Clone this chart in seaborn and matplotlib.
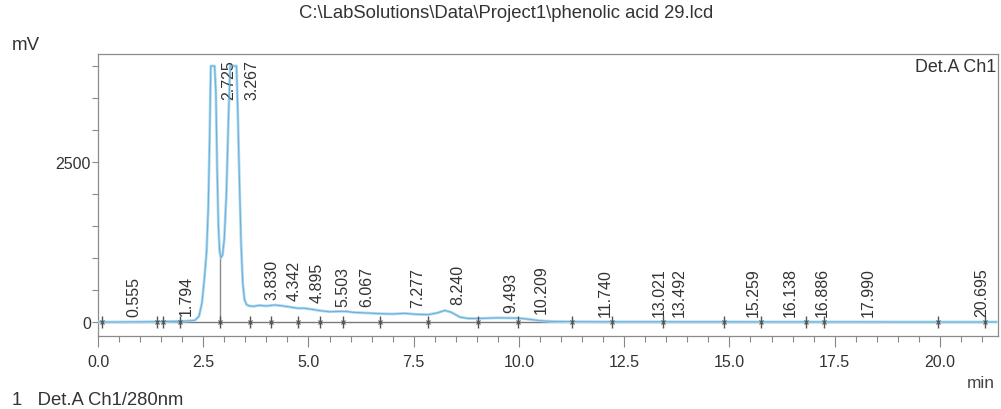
import numpy as np
import pandas as pd
import matplotlib
matplotlib.use("Agg")
import matplotlib.pyplot as plt
import seaborn as sns

# ---- data ----
time_min = [0.0, 0.5, 1.0, 1.4, 1.8, 2.1, 2.3, 2.4, 2.47, 2.53, 2.58, 2.62, 2.65, 2.68,
            2.72, 2.77, 2.80, 2.83, 2.86, 2.89, 2.92, 2.96, 3.00, 3.05, 3.10, 3.14,
            3.22, 3.29, 3.32, 3.36, 3.40, 3.44, 3.48, 3.53, 3.60, 3.70, 3.83, 4.00,
            4.20, 4.34, 4.55, 4.75, 4.90, 5.10, 5.30, 5.50, 5.70, 5.90, 6.07, 6.40,
            6.70, 7.00, 7.28, 7.55, 7.84, 8.05, 8.24, 8.40, 8.60, 8.80, 9.03, 9.49,
            9.98, 10.21, 10.50, 10.80, 11.26, 12.00, 13.00, 14.00, 15.00, 16.00,
            17.00, 18.00, 19.00, 20.00, 21.00, 21.35]
signal_mv = [0, 0, 2, 5, 10, 15, 25, 90, 300, 700, 1100, 1800, 2800, 4000,
             4000, 4000, 3600, 2400, 1500, 1100, 1000, 1050, 1300, 2000, 3200, 4000,
             4000, 4000, 3300, 2200, 1200, 600, 350, 270, 250, 245, 260, 250,
             265, 255, 235, 215, 215, 195, 175, 160, 165, 165, 150, 140,
             130, 125, 135, 120, 115, 140, 180, 150, 75, 55, 55, 65,
             60, 45, 20, 8, 5, 3, 3, 2, 2, 1,
             1, 1, 0, 0, 0, 0]

peak_rt = [0.555, 1.794, 2.725, 3.267, 3.830, 4.342, 4.895, 5.503, 6.067, 7.277,
           8.240, 9.493, 10.209, 11.740, 13.021, 13.492, 15.259, 16.138, 16.886,
           17.990, 20.695]
peak_labels = ["0.555", "1.794", "2.725", "3.267", "3.830", "4.342", "4.895", "5.503",
               "6.067", "7.277", "8.240", "9.493", "10.209", "11.740", "13.021",
               "13.492", "15.259", "16.138", "16.886", "17.990", "20.695"]
# integration boundary marks on the baseline
boundary_min = [0.1, 1.4, 1.55, 1.95, 2.90, 3.60, 4.10, 4.75, 5.27, 5.82, 6.70, 7.84,
                9.03, 9.98, 11.26, 12.20, 13.42, 14.87, 15.75, 16.82, 17.24, 19.95, 21.07]

x_major = [0.0, 2.5, 5.0, 7.5, 10.0, 12.5, 15.0, 17.5, 20.0]
y_major = [0, 2500]

df = pd.DataFrame({"time": time_min, "mV": signal_mv})

sns.set_style("white")
plt.rcParams["font.family"] = ["Liberation Sans", "DejaVu Sans"]

fig = plt.figure(figsize=(10.01, 4.10), dpi=100)
ax = fig.add_axes([98 / 1001, 1 - 337 / 410, 900 / 1001, 282 / 410])

XMIN, XMAX = 0.0, 21.38
YMIN, YMAX = -219, 4187

# integration baseline
ax.plot([0.1, 21.07], [0, 0], color="#7a7a7a", lw=1.0, zorder=2)
# drop line at the valley
ax.plot([2.90, 2.90], [0, 1000], color="#8a8a8a", lw=1.0, zorder=2)

sns.lineplot(data=df, x="time", y="mV", ax=ax, color="#a8def0", lw=2.0, zorder=3)
sns.lineplot(data=df, x="time", y="mV", ax=ax, color="#78acd8", lw=0.8, zorder=4)

# boundary markers
ax.plot(boundary_min, [0] * len(boundary_min), ls="none", marker="|", ms=9,
        mew=1.0, color="#555555", zorder=5)
ax.plot(boundary_min, [0] * len(boundary_min), ls="none", marker="x", ms=3,
        mew=0.8, color="#555555", zorder=5)

# peak labels
sig_at = np.interp(peak_rt, time_min, signal_mv)
for rt, lab, s in zip(peak_rt, peak_labels, sig_at):
    if s > 3500:
        ax.annotate(lab, xy=(rt, YMAX), xytext=(16, -5), textcoords="offset pixels",
                    rotation=90, ha="center", va="top", fontsize=11.5, color="#333333")
    else:
        ax.annotate(lab, xy=(rt, max(s, 0)), xytext=(13, 6), textcoords="offset pixels",
                    rotation=90, ha="center", va="bottom", fontsize=11.5, color="#333333")

ax.set_xlim(XMIN, XMAX)
ax.set_ylim(YMIN, YMAX)
ax.set_xticks(x_major)
ax.set_xticklabels([f"{v:.1f}" for v in x_major])
ax.set_yticks(y_major)
ax.set_yticklabels([str(v) for v in y_major])
ax.set_xticks(np.arange(0, 21.4, 0.5), minor=True)
ax.set_yticks(np.arange(0, 4100, 500), minor=True)
ax.tick_params(axis="x", which="major", direction="out", length=8, width=0.8,
               color="#888888", labelsize=11.5, labelcolor="#333333", pad=5)
ax.tick_params(axis="y", which="major", direction="out", length=4, width=0.8,
               color="#888888", labelsize=11.5, labelcolor="#333333", pad=1)
ax.tick_params(axis="both", which="minor", direction="out", length=4, width=0.8,
               color="#888888")
ax.tick_params(axis="x", which="both", bottom=True)
ax.tick_params(axis="y", which="both", left=True)
for sp in ax.spines.values():
    sp.set_color("#8c8c8c")
    sp.set_linewidth(0.9)
ax.set_xlabel("")
ax.set_ylabel("")

fig.text(506 / 1001, 1 - 14 / 410, r"C:\LabSolutions\Data\Project1\phenolic acid 29.lcd",
         ha="center", va="center", fontsize=13.3, color="#333333")
fig.text(12 / 1001, 1 - 45 / 410, "mV", ha="left", va="center", fontsize=13.5, color="#333333")
ax.text(0.998, 0.955, "Det.A Ch1", transform=ax.transAxes, ha="right", va="center",
        fontsize=12.9, color="#333333")
fig.text(995 / 1001, 1 - 384 / 410, "min", ha="right", va="center", fontsize=12.4, color="#444444")
fig.text(12 / 1001, 1 - 401 / 410, "1   Det.A Ch1/280nm", ha="left", va="center",
         fontsize=13.3, color="#333333")

fig.savefig("out.png", dpi=100)
